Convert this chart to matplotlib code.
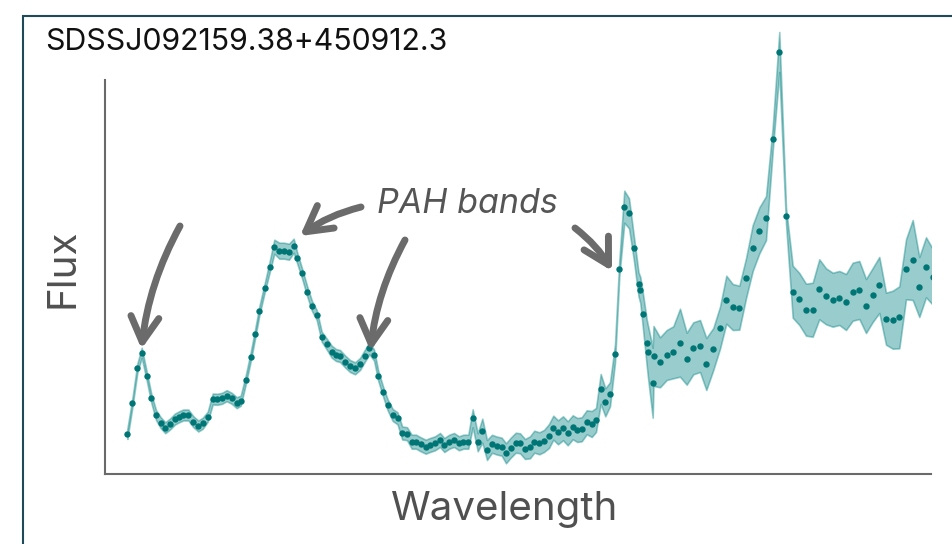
import matplotlib
matplotlib.use("Agg")
import matplotlib.pyplot as plt
from matplotlib.patches import Rectangle
import numpy as np

plt.rcParams['font.family'] = ['Inter', 'DejaVu Sans']

title = "SDSSJ092159.38+450912.3"
xlabel = "Wavelength"
ylabel = "Flux"
note = "PAH bands"

wavelength = [5.892, 6.092, 6.292, 6.468, 6.668, 6.852, 7.04, 7.228, 7.412, 7.60,
              7.80, 7.972, 8.132, 8.332, 8.532, 8.732, 8.908, 9.108, 9.308, 9.492,
              9.68, 9.868, 10.068, 10.268, 10.428, 10.628, 10.828, 11.00, 11.172, 11.388,
              11.588, 11.772, 11.972, 12.16, 12.36, 12.548, 12.692, 12.88, 13.092, 13.28,
              13.468, 13.668, 13.868, 14.068, 14.24, 14.40, 14.612, 14.80, 15.00, 15.20,
              15.388, 15.572, 15.76, 15.932, 16.132, 16.308, 16.508, 16.70, 16.888, 17.08,
              17.268, 17.44, 17.628, 17.828, 18.00, 18.20, 18.40, 18.572, 18.772, 18.96,
              19.16, 19.332, 19.532, 19.708, 19.908, 20.092, 20.28, 20.48, 20.668, 20.868,
              21.04, 21.228, 21.428, 21.60, 21.80, 22.00, 22.172, 22.372, 22.56, 22.76,
              22.932, 23.12, 23.32, 23.508, 23.708, 23.892, 24.068, 24.268, 24.468, 24.64,
              24.828, 25.012, 25.20, 25.40, 25.572, 25.772, 25.96, 26.152, 26.34, 26.412,
              26.532, 26.668, 26.72, 26.908, 26.94, 27.20, 27.468, 27.732, 28.00, 28.268,
              28.532, 28.80, 29.052, 29.332, 29.60, 29.852, 30.108, 30.372, 30.64, 30.908,
              31.172, 31.44, 31.708, 31.972, 32.24, 32.508, 32.772, 33.04, 33.308, 33.572,
              33.84, 34.108, 34.372, 34.64, 34.908, 35.172, 35.44, 35.708, 35.972, 36.24,
              36.508, 36.772, 37.04, 37.308, 37.572, 37.84, 38.10, 38.36]

flux = [3.97, 7.04, 10.54, 12.10, 9.77, 7.54, 5.87, 5.10, 4.60, 4.97,
        5.47, 5.70, 5.87, 5.87, 5.20, 4.77, 5.04, 5.70, 7.47, 7.44,
        7.54, 7.80, 7.54, 7.10, 7.30, 9.37, 11.70, 13.94, 16.27, 18.60,
        20.70, 22.70, 22.30, 22.30, 22.20, 22.80, 21.54, 20.04, 18.20, 16.77,
        15.87, 13.70, 12.97, 12.20, 11.87, 11.77, 11.20, 10.77, 10.54, 10.97,
        11.77, 12.54, 11.87, 9.77, 8.14, 6.87, 5.87, 5.54, 4.07, 4.00,
        3.20, 3.20, 2.94, 2.70, 2.87, 3.04, 3.37, 2.87, 3.20, 3.37,
        3.04, 3.20, 3.20, 5.54, 3.14, 4.30, 2.37, 2.99, 2.82, 2.70,
        2.04, 2.60, 3.10, 3.04, 2.47, 2.64, 3.20, 3.04, 3.27, 3.77,
        4.60, 4.14, 4.54, 4.04, 4.64, 4.37, 4.44, 5.14, 4.97, 5.37,
        8.47, 7.14, 7.94, 12.02, 20.52, 26.70, 26.04, 22.60, 18.94, 18.37,
        15.97, 13.12, 12.20, 9.10, 11.77, 11.14, 11.87, 12.14, 13.10, 11.50,
        12.54, 12.77, 10.97, 12.47, 14.60, 17.40, 16.67, 16.60, 19.54, 22.57,
        24.32, 25.55, 33.44, 42.17, 25.80, 18.20, 17.47, 16.40, 16.40, 18.44,
        17.74, 17.40, 17.57, 17.17, 18.20, 18.37, 16.77, 17.87, 18.87, 15.50,
        15.40, 15.64, 20.44, 21.37, 18.67, 20.64, 19.72, 20.37]

flux_err = [0.50, 0.45, 0.45, 0.50, 0.45, 0.45, 0.50, 0.55, 0.55, 0.55,
            0.55, 0.55, 0.55, 0.55, 0.55, 0.55, 0.55, 0.50, 0.55, 0.55,
            0.55, 0.55, 0.55, 0.55, 0.50, 0.45, 0.45, 0.45, 0.45, 0.45,
            0.55, 0.70, 0.80, 0.80, 0.80, 0.70, 0.55, 0.50, 0.50, 0.50,
            0.50, 0.50, 0.55, 0.60, 0.60, 0.60, 0.60, 0.60, 0.60, 0.60,
            0.60, 0.60, 0.55, 0.50, 0.50, 0.55, 0.60, 0.60, 0.65, 0.65,
            0.70, 0.70, 0.70, 0.70, 0.70, 0.70, 0.70, 0.70, 0.70, 0.70,
            0.70, 0.70, 0.70, 0.90, 0.90, 1.20, 1.00, 0.90, 0.90, 0.90,
            1.00, 1.00, 1.00, 1.00, 1.00, 1.10, 1.10, 1.10, 1.10, 1.20,
            1.20, 1.20, 1.20, 1.20, 1.20, 1.20, 1.20, 1.20, 1.30, 1.20,
            1.50, 1.40, 1.20, 0.90, 0.80, 1.60, 1.50, 1.20, 1.20, 1.30,
            1.80, 2.30, 2.60, 3.50, 3.00, 2.50, 2.50, 2.60, 3.40, 2.60,
            2.60, 2.60, 2.60, 2.10, 2.10, 2.40, 2.30, 2.20, 2.00, 2.30,
            2.30, 2.20, 1.20, 2.00, 0.80, 2.60, 2.60, 2.60, 2.70, 3.00,
            2.80, 2.70, 2.70, 2.80, 2.90, 2.90, 2.70, 2.70, 2.80, 2.60,
            2.90, 3.10, 3.00, 4.00, 3.00, 3.00, 2.80, 2.80]

# annotation arrows: (tail, tip, curvature) in data units
arrows = [((8.00, 24.77), (6.46, 12.47), 0.10),
          ((15.24, 26.67), (12.80, 23.77), 0.10),
          ((17.00, 23.37), (15.62, 12.27), 0.10),
          ((23.80, 24.57), (25.28, 20.27), -0.10)]

xlim = (5.0, 38.028)
ylim = (0.0, 45.37)
spine_top = 39.37

wl = np.array(wavelength)
fl = np.array(flux)
er = np.array(flux_err)

fig = plt.figure(figsize=(9.53, 5.44), dpi=100)
ax = fig.add_axes([105 / 953, 1 - 473.7 / 544, 825.7 / 953, 453.7 / 544])

teal = '#008080'
ax.fill_between(wl, fl - er, fl + er, color=teal, alpha=0.4, lw=1.2, zorder=2)
ax.plot(wl, fl, 'o', color='#007575', markersize=4.6, markeredgewidth=0, zorder=3)

ax.set_xlim(*xlim)
ax.set_ylim(*ylim)
ax.set_xticks([])
ax.set_yticks([])
for s in ('top', 'right'):
    ax.spines[s].set_visible(False)
for s in ('left', 'bottom'):
    ax.spines[s].set_color('#6a6a6a')
    ax.spines[s].set_linewidth(1.5)
ax.spines['left'].set_bounds(ylim[0], spine_top)

ax.set_xlabel(xlabel, fontsize=29, color='#505050')
ax.xaxis.set_label_coords(0.4844, -0.038)
ax.set_ylabel(ylabel, fontsize=29, color='#505050')
ax.yaxis.set_label_coords(-0.028, 0.4534)

for tail, tip, rad in arrows:
    ax.annotate('', xy=tip, xytext=tail,
                arrowprops=dict(arrowstyle='->,head_length=0.75,head_width=0.42',
                                connectionstyle=f'arc3,rad={rad}',
                                lw=5.0, color='#6b6b6b', mutation_scale=24,
                                shrinkA=0, shrinkB=0), zorder=4)

fig.text(467 / 953, 1 - 213 / 544, note, ha='center', va='baseline',
         fontsize=24.5, style='italic', color='#555555')
fig.text(45 / 953, 1 - 50 / 544, title, ha='left', va='baseline',
         fontsize=21.8, color='#111111')

frame = Rectangle((23 / 953, -0.2), 2.0, 1.2 - 16 / 544, transform=fig.transFigure,
                  fill=False, edgecolor='#1e4a5a', lw=1.5, zorder=10)
fig.patches.append(frame)

fig.savefig('out.png', dpi=100)
